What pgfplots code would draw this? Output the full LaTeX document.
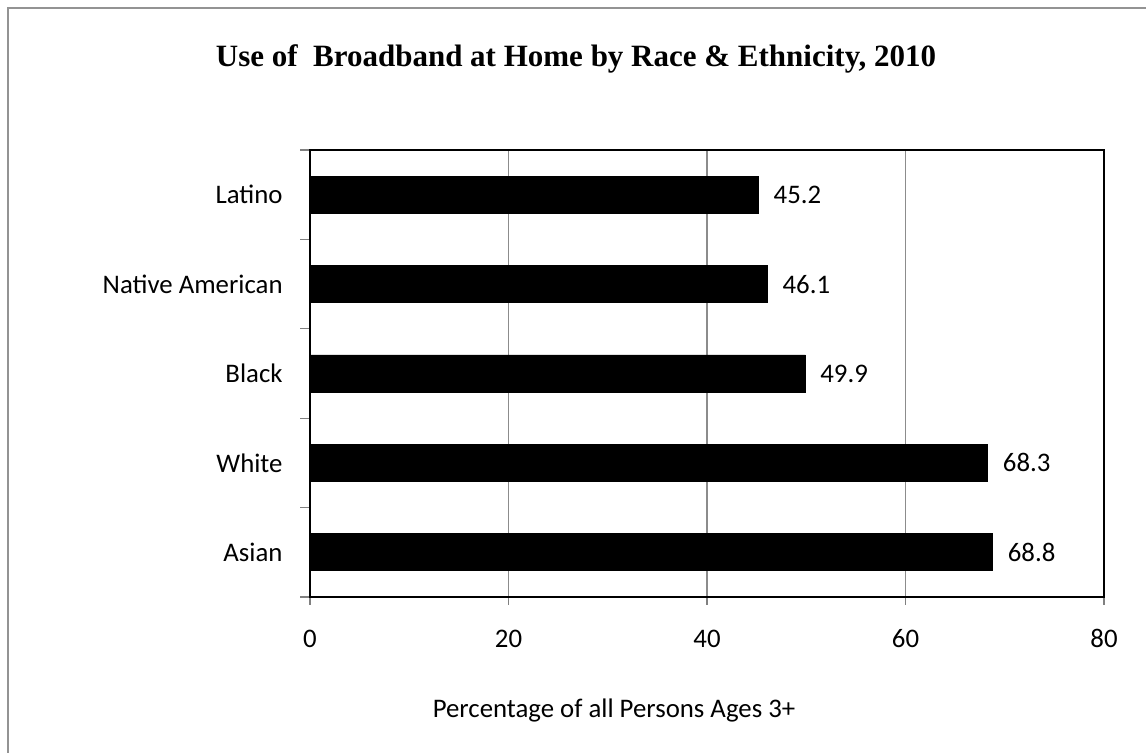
\documentclass[border=0pt]{standalone}
\usepackage{pgfplots}
\pgfplotsset{compat=1.18}
\usepackage{fontspec}
\setmainfont{Carlito}
\newfontfamily\titlefont{Liberation Serif}
\begin{document}
\begin{tikzpicture}
\useasboundingbox (0,0) rectangle (573pt,376.5pt);
\draw[gray!85, line width=1pt] (4pt,-5pt) -- (4pt,372.5pt) -- (580pt,372.5pt);
\node[font=\titlefont\bfseries\fontsize{15.5}{18}\selectfont, anchor=base] at (288pt,343pt) {Use of\ \ Broadband at Home by Race \& Ethnicity, 2010};
\begin{axis}[
  at={(155pt,78pt)}, anchor=south west,
  scale only axis, width=397pt, height=223.5pt,
  xbar, bar width=18.5pt,
  xmin=0, xmax=80, ymin=-0.5, ymax=4.5,
  xtick={0,20,40,60,80},
  ytick={0,1,2,3,4},
  yticklabels={Asian,White,Black,Native American,Latino},
  minor ytick={-0.5,0.5,1.5,2.5,3.5,4.5},
  xmajorgrids,
  major grid style={draw=gray!90, line width=0.6pt},
  axis line style={black, line width=1pt},
  tick align=outside,
  xtick pos=bottom, ytick pos=left,
  major tick length=4pt, minor tick length=5pt,
  major x tick style={gray, line width=0.6pt},
  major y tick style={draw=none},
  minor y tick style={gray, line width=0.6pt},
  ticklabel style={font=\fontsize{13.4}{15}\selectfont},
  xticklabel style={anchor=base, yshift=-21.5pt},
  yticklabel style={anchor=east, xshift=-6.2pt},
  /pgf/number format/assume math mode=true,
  xlabel={Percentage of all Persons Ages 3+},
  xlabel style={at={(axis description cs:0.5,0)}, anchor=center, xshift=-46.5pt, yshift=-57pt, font=\fontsize{13.4}{15}\selectfont},
  nodes near coords,
  nodes near coords style={font=\fontsize{13.4}{15}\selectfont, anchor=west, xshift=4pt, /pgf/number format/.cd, fixed, precision=1, zerofill, assume math mode=true},
]
\addplot[fill=black, draw=black] coordinates {(68.8,0) (68.3,1) (49.9,2) (46.1,3) (45.2,4)};
\end{axis}
\end{tikzpicture}
\end{document}
